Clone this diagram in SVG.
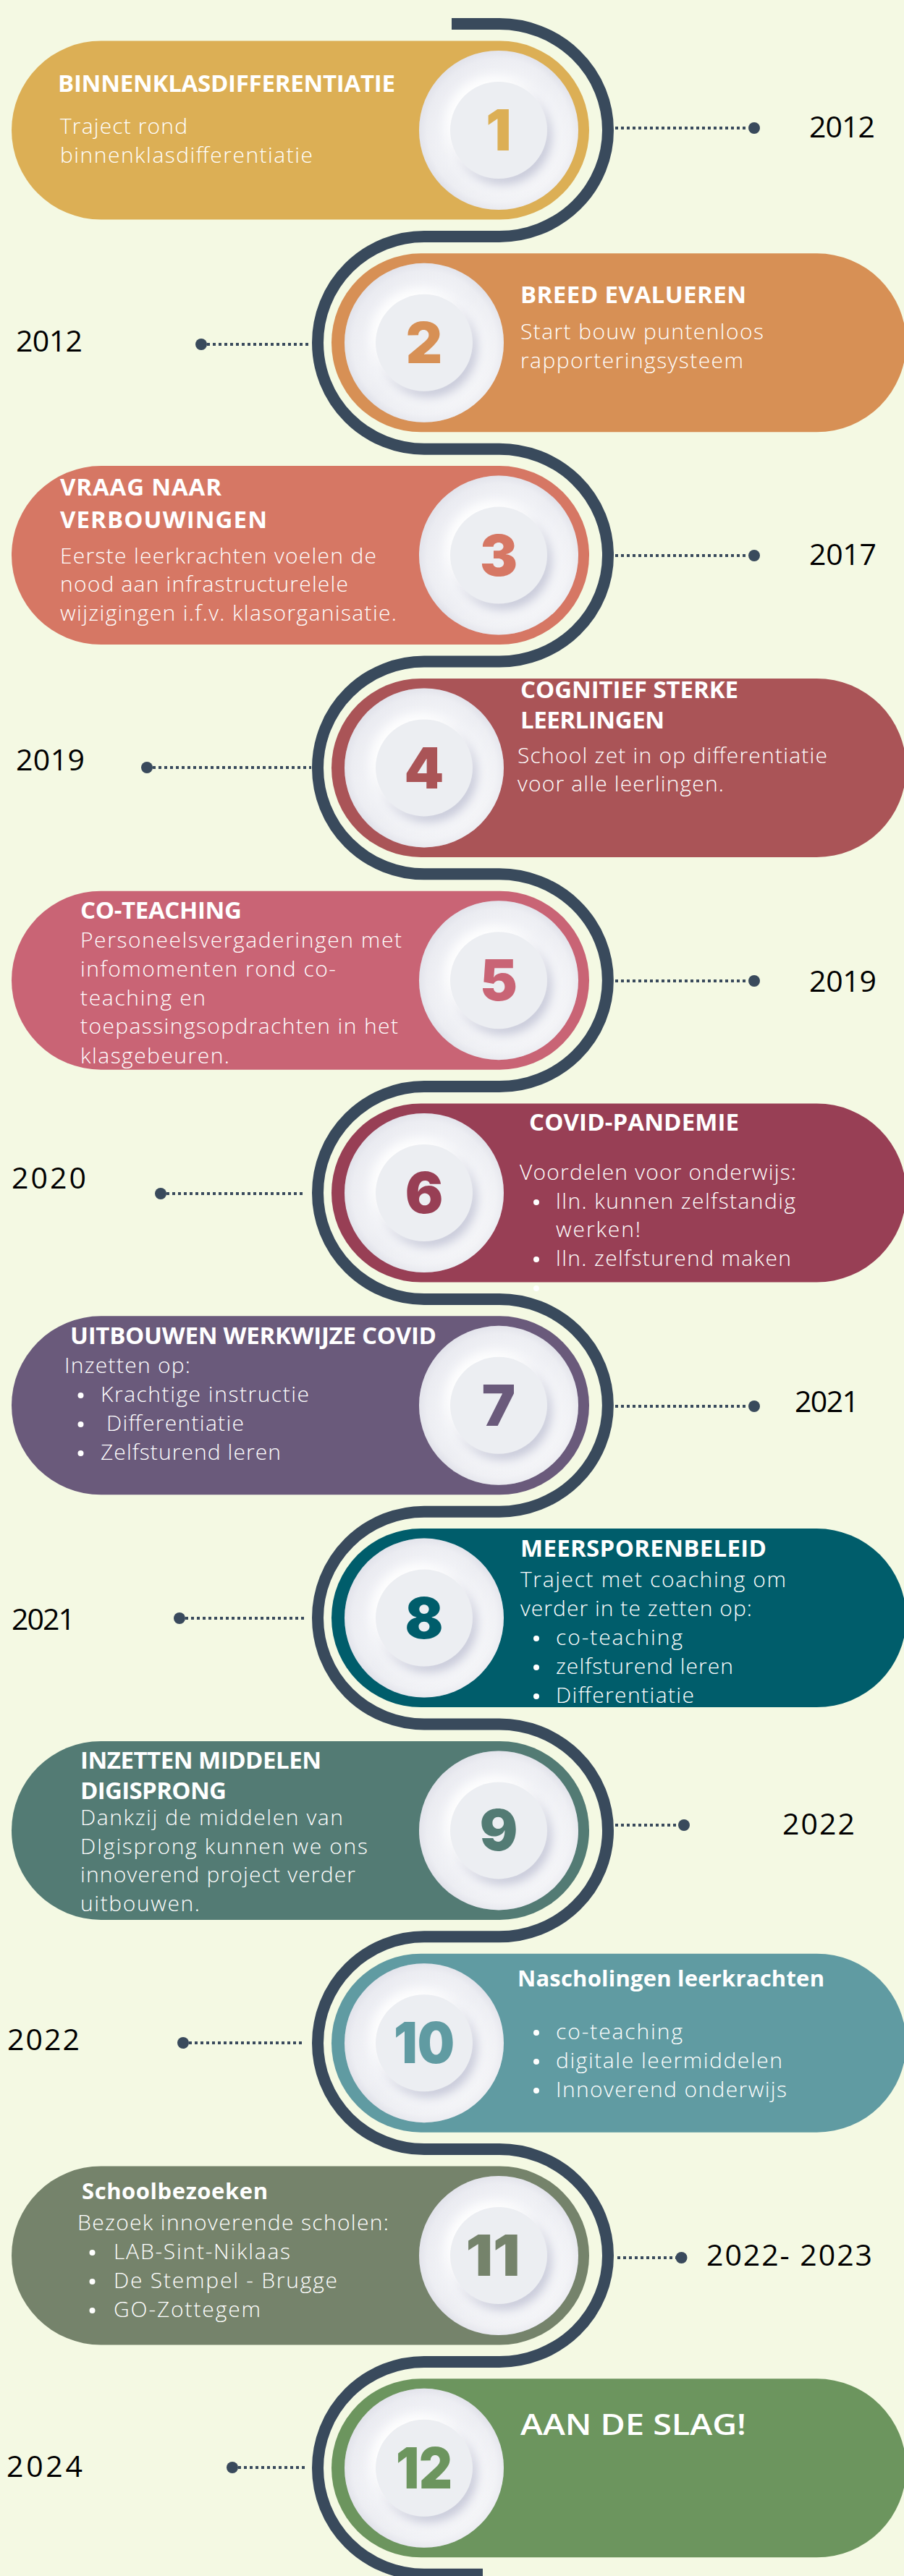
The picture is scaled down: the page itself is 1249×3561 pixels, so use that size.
<svg xmlns="http://www.w3.org/2000/svg" xmlns:xlink="http://www.w3.org/1999/xlink" width="1249" height="3561" viewBox="0 0 1249 3561">
<style>
.pill{stroke:none}
.ttl{font-family:'Open Sans','Noto Sans',sans-serif;font-weight:700;font-size:33px;fill:#FFFFFF}
.ttl2{font-family:'Open Sans','Noto Sans',sans-serif;font-weight:700;font-size:31px;fill:#FFFFFF}
.bd{font-family:'Open Sans','Noto Sans',sans-serif;font-weight:300;font-size:30px;fill:#FFFFFF}
.yr{font-family:'Open Sans','Noto Sans',sans-serif;font-weight:400;font-size:41px;fill:#000000}
.num{font-family:Inter,Roboto,'Open Sans',sans-serif;font-weight:900;font-size:78px;text-anchor:middle}
.bul{fill:#FFFFFF}
.dots{stroke:#394A5C;stroke-width:4;stroke-dasharray:4 4;fill:none}
.dot{fill:#394A5C}
.snake{stroke:#394A5C;stroke-width:16;fill:none}
</style>
<defs>
<radialGradient id="gOuter" cx="0.5" cy="0.5" r="0.5">
<stop offset="0" stop-color="#EEF0F4"/>
<stop offset="0.68" stop-color="#F2F3F7"/>
<stop offset="0.9" stop-color="#ECEDF2"/>
<stop offset="1" stop-color="#E0E1E9"/>
</radialGradient>
<linearGradient id="gLight" x1="0" y1="0" x2="1" y2="1">
<stop offset="0" stop-color="#D8D9E4" stop-opacity="0.55"/>
<stop offset="0.5" stop-color="#FFFFFF" stop-opacity="0"/>
<stop offset="1" stop-color="#FFFFFF" stop-opacity="0.6"/>
</linearGradient>
<filter id="neo" x="-40%" y="-40%" width="180%" height="180%">
<feGaussianBlur in="SourceAlpha" stdDeviation="7" result="b"/>
<feOffset in="b" dx="6" dy="8" result="o1"/>
<feFlood flood-color="#C6C8D8"/>
<feComposite in2="o1" operator="in" result="s1"/>
<feOffset in="b" dx="-6" dy="-7" result="o2"/>
<feFlood flood-color="#FFFFFF"/>
<feComposite in2="o2" operator="in" result="s2"/>
<feMerge><feMergeNode in="s1"/><feMergeNode in="s2"/><feMergeNode in="SourceGraphic"/></feMerge>
</filter>
<g id="plate">
<circle r="110" fill="url(#gOuter)"/>
<circle r="110" fill="url(#gLight)"/>
<circle r="67" fill="#ECEEF2" filter="url(#neo)"/>
</g>
</defs>
<rect width="1249" height="3561" fill="#F4F9E3"/>

<g id="connectors">
<path class="snake" d="M 624 33.1 H 690 A 150 146.9 0 0 1 690 326.9 H 586 A 147 146.9 0 0 0 586 620.7 H 690 A 150 146.9 0 0 1 690 914.5 H 586 A 147 146.9 0 0 0 586 1208.3 H 690 A 150 146.9 0 0 1 690 1502.1 H 586 A 147 146.9 0 0 0 586 1795.9 H 690 A 150 146.9 0 0 1 690 2089.7 H 586 A 147 146.9 0 0 0 586 2383.5 H 690 A 150 146.9 0 0 1 690 2677.3 H 586 A 147 146.9 0 0 0 586 2971.1 H 690 A 150 146.9 0 0 1 690 3264.9 H 586 A 147 146.9 0 0 0 586 3558.7 H 667"/>
<path class="dots" d="M850 177H1034"/><circle class="dot" cx="1042" cy="177" r="8"/>
<circle class="dot" cx="278" cy="476" r="8"/><path class="dots" d="M286 476H430"/>
<path class="dots" d="M850 768H1034"/><circle class="dot" cx="1042" cy="768" r="8"/>
<circle class="dot" cx="203" cy="1061" r="8"/><path class="dots" d="M211 1061H430"/>
<path class="dots" d="M850 1356H1034"/><circle class="dot" cx="1042" cy="1356" r="8"/>
<circle class="dot" cx="222" cy="1650" r="8"/><path class="dots" d="M230 1650H420"/>
<path class="dots" d="M850 1944H1034"/><circle class="dot" cx="1042" cy="1944" r="8"/>
<circle class="dot" cx="248" cy="2237" r="8"/><path class="dots" d="M256 2237H420"/>
<path class="dots" d="M850 2523H937"/><circle class="dot" cx="945" cy="2523" r="8"/>
<circle class="dot" cx="253" cy="2824" r="8"/><path class="dots" d="M261 2824H420"/>
<path class="dots" d="M853 3121H934"/><circle class="dot" cx="941.5" cy="3121" r="8"/>
<circle class="dot" cx="321" cy="3411" r="8"/><path class="dots" d="M329 3411H421"/>
</g>

<g id="node1">
<rect class="pill" x="16" y="56.5" width="798" height="247" rx="123.5" fill="#DCAF55"/>
<use xlink:href="#plate" href="#plate" x="689" y="180"/>
<text class="num" x="689" y="208" fill="#DCAF55">1</text>
<text class="ttl" x="80" y="127" textLength="466">BINNENKLASDIFFERENTIATIE</text>
<text class="bd" x="83" y="185" textLength="176">Traject rond</text>
<text class="bd" x="83" y="225" textLength="349">binnenklasdifferentiatie</text>
<text class="yr" x="1118" y="190" textLength="91">2012</text>
</g>

<g id="node2">
<rect class="pill" x="458" y="350.3" width="794" height="247" rx="123.5" fill="#D79055"/>
<use xlink:href="#plate" href="#plate" x="586" y="473.8"/>
<text class="num" x="586" y="502" fill="#D79055">2</text>
<text class="ttl" x="719" y="419" textLength="312">BREED EVALUEREN</text>
<text class="bd" x="719" y="469" textLength="336">Start bouw puntenloos</text>
<text class="bd" x="719" y="509" textLength="308">rapporteringsysteem</text>
<text class="yr" x="22" y="486" textLength="92">2012</text>
</g>

<g id="node3">
<rect class="pill" x="16" y="644.1" width="798" height="247" rx="123.5" fill="#D67764"/>
<use xlink:href="#plate" href="#plate" x="689" y="767.6"/>
<text class="num" x="689" y="796" fill="#D67764">3</text>
<text class="ttl" x="83" y="685" textLength="223">VRAAG NAAR</text>
<text class="ttl" x="83" y="730" textLength="286">VERBOUWINGEN</text>
<text class="bd" x="83" y="779" textLength="437">Eerste leerkrachten voelen de</text>
<text class="bd" x="83" y="818" textLength="398">nood aan infrastructurelele</text>
<text class="bd" x="83" y="858" textLength="465">wijzigingen i.f.v. klasorganisatie.</text>
<text class="yr" x="1118" y="781" textLength="93">2017</text>
</g>

<g id="node4">
<rect class="pill" x="458" y="937.9" width="794" height="247" rx="123.5" fill="#AA5457"/>
<use xlink:href="#plate" href="#plate" x="586" y="1061.4"/>
<text class="num" x="586" y="1090" fill="#AA5457">4</text>
<text class="ttl" x="719" y="965" textLength="301">COGNITIEF STERKE</text>
<text class="ttl" x="719" y="1007" textLength="199">LEERLINGEN</text>
<text class="bd" x="715" y="1055" textLength="428">School zet in op differentiatie</text>
<text class="bd" x="715" y="1094" textLength="285">voor alle leerlingen.</text>
<text class="yr" x="22" y="1065" textLength="95">2019</text>
</g>

<g id="node5">
<rect class="pill" x="16" y="1231.7" width="798" height="247" rx="123.5" fill="#C96475"/>
<use xlink:href="#plate" href="#plate" x="689" y="1355.2"/>
<text class="num" x="689" y="1383" fill="#C96475">5</text>
<text class="ttl" x="111" y="1270" textLength="223">CO-TEACHING</text>
<text class="bd" x="111" y="1310" textLength="444">Personeelsvergaderingen met</text>
<text class="bd" x="111" y="1350" textLength="353">infomomenten rond co-</text>
<text class="bd" x="111" y="1390" textLength="173">teaching en</text>
<text class="bd" x="111" y="1429" textLength="439">toepassingsopdrachten in het</text>
<text class="bd" x="111" y="1470" textLength="206">klasgebeuren.</text>
<text class="yr" x="1118" y="1371" textLength="93">2019</text>
</g>

<g id="node6">
<rect class="pill" x="458" y="1525.5" width="794" height="247" rx="123.5" fill="#983F55"/>
<use xlink:href="#plate" href="#plate" x="586" y="1649"/>
<text class="num" x="586" y="1677" fill="#983F55">6</text>
<text class="ttl" x="731" y="1563" textLength="290">COVID-PANDEMIE</text>
<text class="bd" x="718" y="1631" textLength="382">Voordelen voor onderwijs:</text>
<circle class="bul" cx="741" cy="1662" r="4"/>
<text class="bd" x="768" y="1671" textLength="331">lln. kunnen zelfstandig</text>
<text class="bd" x="768" y="1710" textLength="117">werken!</text>
<circle class="bul" cx="741" cy="1741" r="4"/>
<text class="bd" x="768" y="1750" textLength="325">lln. zelfsturend maken</text>
<circle class="bul" cx="741" cy="1781" r="4"/>
<text class="yr" x="16" y="1643" textLength="103">2020</text>
</g>

<g id="node7">
<rect class="pill" x="16" y="1819.3" width="798" height="247" rx="123.5" fill="#6A5A7B"/>
<use xlink:href="#plate" href="#plate" x="689" y="1942.8"/>
<text class="num" x="689" y="1971" fill="#6A5A7B">7</text>
<text class="ttl" x="97" y="1858" textLength="506">UITBOUWEN WERKWIJZE COVID</text>
<text class="bd" x="89" y="1898" textLength="174">Inzetten op:</text>
<circle class="bul" cx="111.5" cy="1929" r="4"/>
<text class="bd" x="139" y="1938" textLength="288">Krachtige instructie</text>
<circle class="bul" cx="111.5" cy="1969" r="4"/>
<text class="bd" x="147" y="1978" textLength="190">Differentiatie</text>
<circle class="bul" cx="111.5" cy="2009" r="4"/>
<text class="bd" x="139" y="2018" textLength="249">Zelfsturend leren</text>
<text class="yr" x="1098" y="1952" textLength="89">2021</text>
</g>

<g id="node8">
<rect class="pill" x="458" y="2113.1" width="794" height="247" rx="123.5" fill="#005D6B"/>
<use xlink:href="#plate" href="#plate" x="586" y="2236.6"/>
<text class="num" x="586" y="2265" fill="#005D6B">8</text>
<text class="ttl" x="719" y="2152" textLength="340">MEERSPORENBELEID</text>
<text class="bd" x="719" y="2194" textLength="367">Traject met coaching om</text>
<text class="bd" x="719" y="2234" textLength="320">verder in te zetten op:</text>
<circle class="bul" cx="741" cy="2265" r="4"/>
<text class="bd" x="768" y="2274" textLength="175">co-teaching</text>
<circle class="bul" cx="741" cy="2305" r="4"/>
<text class="bd" x="768" y="2314" textLength="245">zelfsturend leren</text>
<circle class="bul" cx="741" cy="2345" r="4"/>
<text class="bd" x="768" y="2354" textLength="191">Differentiatie</text>
<text class="yr" x="16" y="2253" textLength="88">2021</text>
</g>

<g id="node9">
<rect class="pill" x="16" y="2406.9" width="798" height="247" rx="123.5" fill="#537B74"/>
<use xlink:href="#plate" href="#plate" x="689" y="2530.4"/>
<text class="num" x="689" y="2558" fill="#537B74">9</text>
<text class="ttl" x="111" y="2445" textLength="333">INZETTEN MIDDELEN</text>
<text class="ttl" x="111" y="2487" textLength="202">DIGISPRONG</text>
<text class="bd" x="111" y="2523" textLength="363">Dankzij de middelen van</text>
<text class="bd" x="111" y="2563" textLength="397">DIgisprong kunnen we ons</text>
<text class="bd" x="111" y="2602" textLength="380">innoverend project verder</text>
<text class="bd" x="111" y="2642" textLength="165">uitbouwen.</text>
<text class="yr" x="1081" y="2536" textLength="100">2022</text>
</g>

<g id="node10">
<rect class="pill" x="458" y="2700.7" width="794" height="247" rx="123.5" fill="#609BA2"/>
<use xlink:href="#plate" href="#plate" x="586" y="2824.2"/>
<text class="num" x="586" y="2852" fill="#609BA2" textLength="84" lengthAdjust="spacingAndGlyphs">10</text>
<text class="ttl2" x="715" y="2746" textLength="424">Nascholingen leerkrachten</text>
<circle class="bul" cx="741" cy="2810" r="4"/>
<text class="bd" x="768" y="2819" textLength="175">co-teaching</text>
<circle class="bul" cx="741" cy="2850" r="4"/>
<text class="bd" x="768" y="2859" textLength="313">digitale leermiddelen</text>
<circle class="bul" cx="741" cy="2890" r="4"/>
<text class="bd" x="768" y="2899" textLength="319">Innoverend onderwijs</text>
<text class="yr" x="10" y="2834" textLength="100">2022</text>
</g>

<g id="node11">
<rect class="pill" x="16" y="2994.5" width="798" height="247" rx="123.5" fill="#75836B"/>
<use xlink:href="#plate" href="#plate" x="689" y="3118"/>
<text class="num" x="681" y="3146" fill="#75836B" textLength="75" lengthAdjust="spacingAndGlyphs">11</text>
<text class="ttl2" x="113" y="3040" textLength="257">Schoolbezoeken</text>
<text class="bd" x="107" y="3083" textLength="430">Bezoek innoverende scholen:</text>
<circle class="bul" cx="127.5" cy="3114" r="4"/>
<text class="bd" x="157" y="3123" textLength="244">LAB-Sint-Niklaas</text>
<circle class="bul" cx="127.5" cy="3154" r="4"/>
<text class="bd" x="157" y="3163" textLength="309">De Stempel - Brugge</text>
<circle class="bul" cx="127.5" cy="3194" r="4"/>
<text class="bd" x="157" y="3203" textLength="203">GO-Zottegem</text>
<text class="yr" x="976" y="3132" textLength="229">2022- 2023</text>
</g>

<g id="node12">
<rect class="pill" x="458" y="3288.3" width="794" height="247" rx="123.5" fill="#6C955E"/>
<use xlink:href="#plate" href="#plate" x="586" y="3411.8"/>
<text class="num" x="586" y="3440" fill="#6C955E" textLength="78" lengthAdjust="spacingAndGlyphs">12</text>
<text class="ttl" x="719" y="3366" textLength="312" lengthAdjust="spacingAndGlyphs" style="font-size:40px;font-weight:600">AAN DE SLAG!</text>
<text class="yr" x="9" y="3424" textLength="105">2024</text>
</g>
</svg>
